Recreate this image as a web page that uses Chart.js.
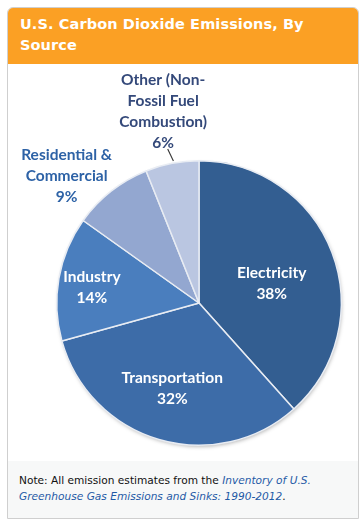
<!DOCTYPE html>
<html>
<head>
<meta charset="utf-8">
<script src="https://cdn.jsdelivr.net/npm/chart.js@4/dist/chart.umd.min.js"></script>
<style>
  html, body { margin:0; padding:0; background:#fff; width:364px; height:522px; overflow:hidden; }
  #card { position:absolute; left:7px; top:7px; width:350px; height:510px; border:1px solid #cfcfcf; border-radius:6px 6px 0 0; background:#fff; overflow:hidden; }
  #header { position:absolute; left:0; top:0; width:350px; height:56px; background:#FBA024; }
  #title { position:absolute; left:12px; top:6px; width:300px; color:#fff; font-family:"DejaVu Sans", sans-serif; font-weight:bold; font-size:14.5px; line-height:21px; letter-spacing:0.1px; }
  #chartbox { position:absolute; left:1px; top:56px; width:348px; height:396px; }
  #note { position:absolute; left:0; top:453px; width:350px; height:57px; background:#F7F8F8; }
  #notetext { position:absolute; left:11px; top:11px; width:330px; font-family:"DejaVu Sans", sans-serif; font-size:10.6px; line-height:16px; color:#111; }
  #notetext i { color:#1F5AA6; }
</style>
</head>
<body>
<div id="card">
  <div id="header"><div id="title">U.S. Carbon Dioxide Emissions, By Source</div></div>
  <div id="chartbox"><canvas id="c" width="348" height="396"></canvas></div>
  <div id="note"><div id="notetext">Note: All emission estimates from the <i>Inventory of U.S. Greenhouse Gas Emissions and Sinks: 1990-2012</i>.</div></div>
</div>
<script>
const categories = ["Electricity", "Transportation", "Industry", "Residential & Commercial", "Other (Non-Fossil Fuel Combustion)"];
const labelLines = [["Electricity"], ["Transportation"], ["Industry"], ["Residential &", "Commercial"], ["Other (Non-", "Fossil Fuel", "Combustion)"]];
const shares = [38, 32, 14, 9, 6];
const colors = ["#335E91", "#3D6CA8", "#4A7EBE", "#93A7D0", "#BAC6E1"];

// label placement style: radius factor, angle nudge (deg), colour, leader line
const labelStyle = [
  {rf: 0.53, da: 5.6, color: "#ffffff", leader: false},
  {rf: 0.63, da: 1,   color: "#ffffff", leader: false},
  {rf: 0.76, da: -2,  color: "#ffffff", leader: false},
  {rf: 1.29, da: -8,  color: "#2D62A6", leader: false},
  {rf: 1.37, da: 0.3, color: "#34497A", leader: true}
];

const labelPlugin = {
  id: 'sliceLabels',
  afterDatasetsDraw(chart) {
    const ctx = chart.ctx;
    const meta = chart.getDatasetMeta(0);
    meta.data.forEach((arc, i) => {
      const p = arc.getProps(['x','y','startAngle','endAngle','outerRadius'], true);
      const st = labelStyle[i];
      const mid = (p.startAngle + p.endAngle) / 2 + st.da * Math.PI / 180;
      const r = p.outerRadius * st.rf;
      const cx = p.x + Math.cos(mid) * r;
      const cy = p.y + Math.sin(mid) * r;
      const lines = labelLines[i].concat([shares[i] + "%"]);
      const lh = 21;
      ctx.save();
      ctx.font = "bold 15.5px Lato, 'Open Sans', sans-serif";
      ctx.fillStyle = st.color;
      ctx.textAlign = "center";
      ctx.textBaseline = "middle";
      const top = cy - (lines.length - 1) * lh / 2;
      lines.forEach((t, k) => ctx.fillText(t, cx, top + k * lh));
      if (st.leader) {
        const m = (p.startAngle + p.endAngle) / 2;
        ctx.strokeStyle = "#333";
        ctx.lineWidth = 1.1;
        ctx.beginPath();
        ctx.moveTo(p.x + Math.cos(m + 0.012) * (p.outerRadius + 2), p.y + Math.sin(m + 0.012) * (p.outerRadius + 2));
        ctx.lineTo(p.x + Math.cos(m - 0.01) * (p.outerRadius + 15), p.y + Math.sin(m - 0.01) * (p.outerRadius + 15));
        ctx.stroke();
      }
      ctx.restore();
    });
  }
};

const shadowPlugin = {
  id: 'pieShadow',
  beforeDatasetsDraw(chart) {
    const meta = chart.getDatasetMeta(0);
    if (!meta.data.length) return;
    const p = meta.data[0].getProps(['x','y','outerRadius'], true);
    const ctx = chart.ctx;
    ctx.save();
    ctx.shadowColor = "rgba(0,0,0,0.35)";
    ctx.shadowBlur = 4;
    ctx.shadowOffsetX = 1;
    ctx.shadowOffsetY = 2;
    ctx.fillStyle = "#3D6CA8";
    ctx.beginPath();
    ctx.arc(p.x, p.y, p.outerRadius - 1, 0, Math.PI * 2);
    ctx.fill();
    ctx.restore();
  }
};

new Chart(document.getElementById('c'), {
  type: 'pie',
  data: {
    labels: categories,
    datasets: [{
      data: shares,
      backgroundColor: colors,
      borderColor: "#e8ecf3",
      borderWidth: 1.5
    }]
  },
  options: {
    responsive: false,
    animation: false,
    rotation: 0,
    layout: { padding: { left: 47, right: 15, top: 96, bottom: 14 } },
    plugins: { legend: { display: false }, tooltip: { enabled: false } }
  },
  plugins: [shadowPlugin, labelPlugin]
});
</script>
</body>
</html>
